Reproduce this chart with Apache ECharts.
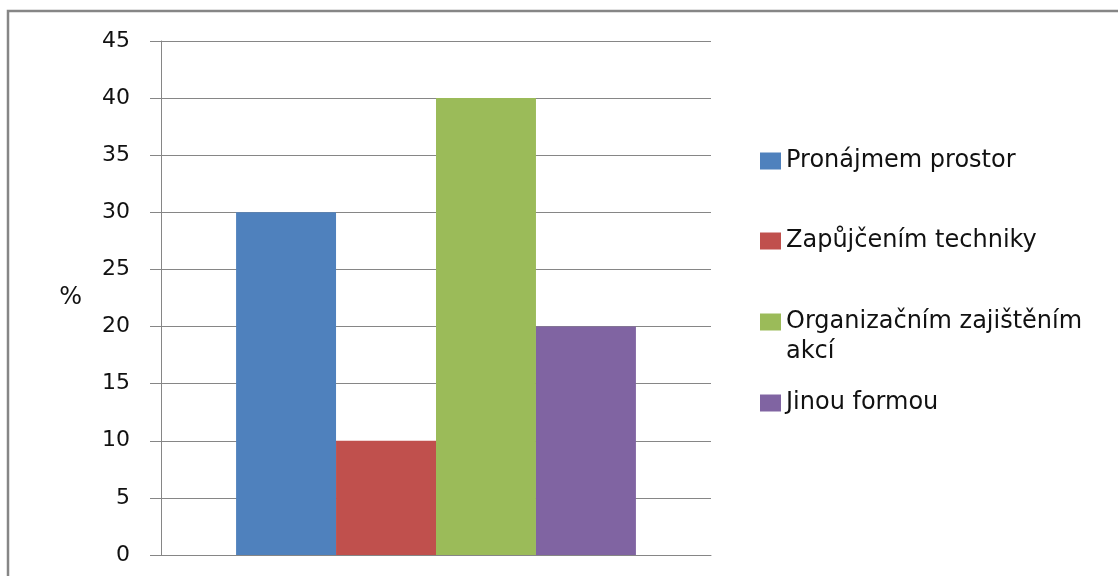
<!DOCTYPE html>
<html>
<head>
<meta charset="utf-8">
<title>Formy podpory</title>
<script src="https://cdn.jsdelivr.net/npm/echarts@6/dist/echarts.min.js"></script>
<style>
  html, body { margin: 0; padding: 0; background: #fff; }
  #chart { width: 1118px; height: 576px; }
</style>
</head>
<body>
<div id="chart"></div>
<script>
// data
var seriesNames = ['Pronájmem prostor', 'Zapůjčením techniky', 'Organizačním zajištěním\nakcí', 'Jinou formou'];
var seriesValues = [30, 10, 40, 20];
var seriesColors = ['#4F81BD', '#C0504D', '#9BBB59', '#8064A2'];
var legendTops = [146, 226, 277, 388];
var yMax = 45;
var yStep = 5;

var gridColor = '#868686';
var font = 'DejaVu Sans';

var series = seriesNames.map(function (name, i) {
  return {
    name: name,
    type: 'bar',
    data: [seriesValues[i]],
    barGap: 0,
    barCategoryGap: '27.3%',
    itemStyle: { color: seriesColors[i] }
  };
});

// one legend per entry so each can sit where the picture puts it
var legends = seriesNames.map(function (name, i) {
  var twoLines = name.indexOf('\n') >= 0;
  return {
    data: [name],
    orient: 'vertical',
    left: 760,
    top: legendTops[i],
    padding: 0,
    itemWidth: 21,
    itemHeight: 17,
    itemGap: 0,
    icon: 'rect',
    selectedMode: false,
    // a blank first line keeps the marker level with the text's first line
    formatter: function (n) { return twoLines ? ' \n' + n : n; },
    textStyle: {
      fontFamily: font,
      fontSize: 24,
      color: '#111',
      lineHeight: 30
    }
  };
});

var chart = echarts.init(document.getElementById('chart'));
chart.setOption({
  animation: false,
  backgroundColor: '#fff',
  graphic: [{
    type: 'rect',
    shape: { x: 8, y: 11, width: 1130, height: 600 },
    style: { fill: 'none', stroke: gridColor, lineWidth: 2.5 },
    silent: true
  }],
  legend: legends,
  grid: { left: 161, right: 407, top: 41, bottom: 21 },
  xAxis: {
    type: 'category',
    data: [''],
    axisLine: { lineStyle: { color: gridColor, width: 1 } },
    axisTick: { show: false },
    axisLabel: { show: false }
  },
  yAxis: {
    type: 'value',
    min: 0,
    max: yMax,
    interval: yStep,
    name: '%',
    nameLocation: 'middle',
    nameRotate: 0,
    nameGap: 79,
    nameTextStyle: { fontFamily: font, fontSize: 24, color: '#111', padding: [8, 0, 0, 0] },
    axisLine: { show: true, lineStyle: { color: gridColor, width: 1 } },
    axisTick: { show: true, inside: false, length: 11, lineStyle: { color: gridColor } },
    axisLabel: { margin: 31, fontFamily: font, fontSize: 22, color: '#111' },
    splitLine: { lineStyle: { color: gridColor, width: 1 } }
  },
  series: series
});
</script>
</body>
</html>
